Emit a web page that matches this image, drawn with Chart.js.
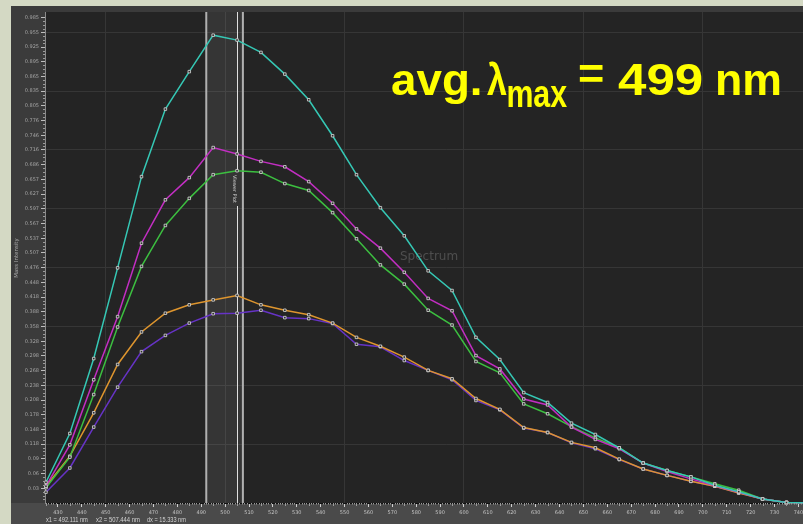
<!DOCTYPE html>
<html><head><meta charset="utf-8">
<script src="https://cdn.jsdelivr.net/npm/chart.js@4.4.0/dist/chart.umd.min.js"></script>
<style>
html,body{margin:0;padding:0;background:#d4d9c4;overflow:hidden;width:803px;height:524px;}
#wrap{position:absolute;left:11px;top:6px;width:840px;height:518px;}
</style></head><body>
<div id="wrap"><canvas id="c" width="840" height="518"></canvas></div>
<script>
const wavelengths = [425,435,445,455,465,475,485,495,505,515,525,535,545,555,565,575,585,595,605,615,625,635,645,655,665,675,685,695,705,715,725,735,745];
const tealValues    = [0.042,0.141,0.293,0.477,0.662,0.799,0.875,0.949,0.939,0.914,0.870,0.818,0.745,0.666,0.599,0.542,0.471,0.431,0.336,0.291,0.224,0.204,0.162,0.139,0.112,0.081,0.066,0.053,0.036,0.023,0.008,0.001,0.000];
const magentaValues = [0.034,0.118,0.250,0.378,0.527,0.615,0.660,0.721,0.708,0.693,0.682,0.652,0.608,0.556,0.517,0.468,0.415,0.390,0.299,0.272,0.211,0.199,0.154,0.129,0.110,0.081,0.064,0.049,0.035,0.022,0.008,0.001,0.000];
const greenValues   = [0.031,0.093,0.220,0.357,0.480,0.563,0.618,0.666,0.674,0.671,0.648,0.634,0.589,0.536,0.483,0.444,0.391,0.361,0.287,0.264,0.201,0.181,0.155,0.132,0.112,0.081,0.066,0.053,0.039,0.026,0.008,0.001,0.000];
const orangeValues  = [0.034,0.095,0.183,0.281,0.347,0.385,0.402,0.412,0.421,0.402,0.391,0.382,0.365,0.336,0.318,0.296,0.269,0.252,0.212,0.190,0.153,0.143,0.123,0.112,0.089,0.069,0.056,0.044,0.034,0.020,0.008,0.001,0.000];
const purpleValues  = [0.022,0.071,0.154,0.235,0.307,0.340,0.365,0.384,0.385,0.391,0.376,0.374,0.364,0.322,0.317,0.289,0.269,0.250,0.208,0.189,0.152,0.143,0.122,0.110,0.088,0.069,0.056,0.044,0.034,0.021,0.008,0.001,0.000];

const yTickValues = [0.0298,0.0597,0.0895,0.1194,0.1492,0.1790,0.2089,0.2387,0.2686,0.2984,0.3282,0.3581,0.3879,0.4178,0.4476,0.4774,0.5073,0.5371,0.5670,0.5968,0.6266,0.6565,0.6863,0.7162,0.7460,0.7758,0.8057,0.8355,0.8654,0.8952,0.9250,0.9549,0.9847];
const yTickLabels = ['0.03','0.06','0.09','0.118','0.148','0.178','0.208','0.238','0.268','0.298','0.328','0.358','0.388','0.418','0.448','0.476','0.507','0.537','0.567','0.597','0.627','0.657','0.686','0.716','0.746','0.776','0.805','0.835','0.865','0.895','0.925','0.955','0.985'];
const yGridValues = [0.1194,0.2387,0.3581,0.4774,0.5968,0.7162,0.8355,0.9549];
const xTickValues = [430,440,450,460,470,480,490,500,510,520,530,540,550,560,570,580,590,600,610,620,630,640,650,660,670,680,690,700,710,720,730,740,750,760];
const xTickLabels = ['430','440','450','460','470','480','490','500','510','520','530','540','550','560','570','580','590','600','610','620','630','640','650','660','670','680','690','700','710','720','730','740','750','760'];
const xGridValues = [450,500,550,600,650,700,750];
const cursorX1 = 492.111, cursorX2 = 507.444, viewerX = 505;
const titleMain = 'avg. \u03bb', titleSub = 'max', titleRest = '= 499 nm';
const yAxisTitle = 'Mass Intensity';
const bottomTexts = ['x1 = 492.111 nm', 'x2 = 507.444 nm', 'dx = 15.333 nm'];

const series = [
  {name:'S1', values:tealValues,    color:'#35c8b5'},
  {name:'S2', values:magentaValues, color:'#c22ec2'},
  {name:'S3', values:greenValues,   color:'#3cbf40'},
  {name:'S4', values:orangeValues,  color:'#de952e'},
  {name:'S5', values:purpleValues,  color:'#6633c6'}
];

function fitText(ctx, text, x, base, w, font, color){
  ctx.save();
  ctx.font = font; ctx.fillStyle = color; ctx.textAlign='left'; ctx.textBaseline='alphabetic';
  const m = ctx.measureText(text);
  const ink = m.actualBoundingBoxLeft + m.actualBoundingBoxRight;
  const sx = w / ink;
  ctx.translate(x, base);
  ctx.scale(sx, 1);
  ctx.fillText(text, m.actualBoundingBoxLeft, 0);
  ctx.restore();
}

const decor = {
  id:'decor',
  beforeDraw(chart){
    const {ctx, chartArea:a, width, height} = chart;
    ctx.save();
    ctx.fillStyle='#3b3b3b'; ctx.fillRect(0,0,width,height);
    ctx.fillStyle='#4a4a4a'; ctx.fillRect(0,a.bottom,width,height-a.bottom);
    ctx.fillStyle='#242424'; ctx.fillRect(a.left,a.top,a.right-a.left,a.bottom-a.top);
    ctx.restore();
  },
  beforeDatasetsDraw(chart){
    const {ctx, chartArea:a, scales:{x,y}} = chart;
    ctx.save();
    ctx.font = '12px "DejaVu Sans"'; ctx.fillStyle='#4e4e4e'; ctx.textAlign='left'; ctx.textBaseline='middle';
    ctx.fillText('Spectrum', 400-11, 257-6);
    const p1 = x.getPixelForValue(cursorX1), p2 = x.getPixelForValue(cursorX2), pv = x.getPixelForValue(viewerX);
    ctx.fillStyle='rgba(255,255,255,0.08)';
    ctx.fillRect(p1, a.top, p2-p1, a.bottom-a.top);
    ctx.strokeStyle='#b0b0b0'; ctx.lineWidth=2;
    ctx.beginPath(); ctx.moveTo(p1,a.top); ctx.lineTo(p1,a.bottom); ctx.moveTo(p2,a.top); ctx.lineTo(p2,a.bottom); ctx.stroke();
    ctx.strokeStyle='#e0e0e0'; ctx.lineWidth=1;
    ctx.beginPath(); ctx.moveTo(Math.round(pv)+0.5,a.top); ctx.lineTo(Math.round(pv)+0.5,166); ctx.moveTo(Math.round(pv)+0.5,200); ctx.lineTo(Math.round(pv)+0.5,a.bottom); ctx.stroke();
    ctx.translate(pv-3, 183); ctx.rotate(Math.PI/2);
    ctx.font='5px "DejaVu Sans"'; ctx.fillStyle='#cfcfcf'; ctx.textAlign='center'; ctx.textBaseline='middle';
    ctx.fillText('Viewer Plot', 0, 0);
    ctx.restore();
  },
  afterDraw(chart){
    const {ctx, chartArea:a, scales:{x,y}} = chart;
    ctx.save();
    ctx.strokeStyle='#9a9a9a'; ctx.lineWidth=1;
    ctx.beginPath();
    for(let i=0;i<yTickValues.length;i++){
      const step = yTickValues[0]/4;
      for(let k=1;k<4;k++){
        const py = Math.round(y.getPixelForValue(yTickValues[i]-k*step))+0.5;
        ctx.moveTo(a.left-2, py); ctx.lineTo(a.left, py);
      }
    }
    ctx.stroke();
    ctx.beginPath();
    for(let v=425; v<=760; v+=1){
      const px = Math.round(x.getPixelForValue(v))+0.5;
      if(px<a.left) continue;
      const len = (v%10===0)?0:((v%5===0)?3:1.5);
      if(len===0) continue;
      ctx.moveTo(px, a.bottom); ctx.lineTo(px, a.bottom+len);
    }
    ctx.stroke();
    ctx.save();
    ctx.translate(17-11, 258-6); ctx.rotate(-Math.PI/2);
    ctx.font='5.5px "DejaVu Sans"'; ctx.fillStyle='#a8a8a8'; ctx.textAlign='center'; ctx.textBaseline='middle';
    ctx.fillText(yAxisTitle, 0, 0);
    ctx.restore();
    fitText(ctx, bottomTexts[0], 46-11, 522-6, 42, '7px "Liberation Sans"', '#d2d2d2');
    fitText(ctx, bottomTexts[1], 96-11, 522-6, 44, '7px "Liberation Sans"', '#d2d2d2');
    fitText(ctx, bottomTexts[2], 147-11, 522-6, 39, '7px "Liberation Sans"', '#d2d2d2');
    const Y = '#ffff00';
    fitText(ctx, 'avg.', 392-11, 95-6, 88, 'bold 45px "Liberation Sans"', Y);
    fitText(ctx, '\u03bb', 487-11, 95-6, 20, 'bold 45px "Liberation Sans"', Y);
    fitText(ctx, titleSub, 508-11, 107-6, 59, 'bold 38px "Liberation Sans"', Y);
    fitText(ctx, '=', 579-11, 89-6, 24, 'bold 45px "Liberation Sans"', Y);
    fitText(ctx, '499', 618-11, 95-6, 84, 'bold 45px "Liberation Sans"', Y);
    fitText(ctx, 'nm', 717-11, 95-6, 63, 'bold 45px "Liberation Sans"', Y);
    ctx.restore();
  }
};

new Chart(document.getElementById('c'), {
  type:'line',
  data:{
    datasets: series.map(s => ({
      label:s.name,
      data: wavelengths.map((w,i)=>({x:w, y:s.values[i]})),
      borderColor:s.color, backgroundColor:s.color, borderWidth:1.5,
      pointStyle:'rect', pointRadius:1.8, pointBorderWidth:0.8,
      pointBorderColor:'#dcdcdc', pointBackgroundColor:'#2a2a2a',
      tension:0, clip:false
    }))
  },
  options:{
    responsive:false, animation:false, devicePixelRatio:1,
    layout:{padding:{top:6,left:0,right:0,bottom:0}},
    plugins:{legend:{display:false}, tooltip:{enabled:false}},
    scales:{
      x:{
        type:'linear', min:424.6, max:760,
        afterBuildTicks: s => { s.ticks = xTickValues.map(v=>({value:v})); },
        ticks:{ callback:(v,i)=>xTickLabels[i], font:{size:5, family:'"DejaVu Sans"'}, color:'#c4c4c4', padding:3, maxRotation:0, autoSkip:false },
        grid:{ color: c => (c.tick && xGridValues.includes(c.tick.value)) ? '#363636' : 'rgba(0,0,0,0)', tickColor:'#cfcfcf', tickLength:4, lineWidth:1 },
        border:{ display:true, color:'#111111', width:1 },
        afterFit: s => { s.height = 21; s.paddingLeft = 0; s.paddingRight = 0; }
      },
      y:{
        type:'linear', min:0, max:0.996,
        afterBuildTicks: s => { s.ticks = yTickValues.map(v=>({value:v})); },
        ticks:{ callback:(v,i)=>yTickLabels[i], font:{size:5, family:'"DejaVu Sans"'}, color:'#a5a5a5', padding:2, autoSkip:false },
        grid:{ color: c => (c.tick && yGridValues.includes(c.tick.value)) ? '#363636' : 'rgba(0,0,0,0)', tickColor:'#bdbdbd', tickLength:4, lineWidth:1 },
        border:{ display:true, color:'#8a8a8a', width:1 },
        afterFit: s => { s.width = 34; s.paddingTop = 0; s.paddingBottom = 0; }
      }
    }
  },
  plugins:[decor]
});
</script>
</body></html>
